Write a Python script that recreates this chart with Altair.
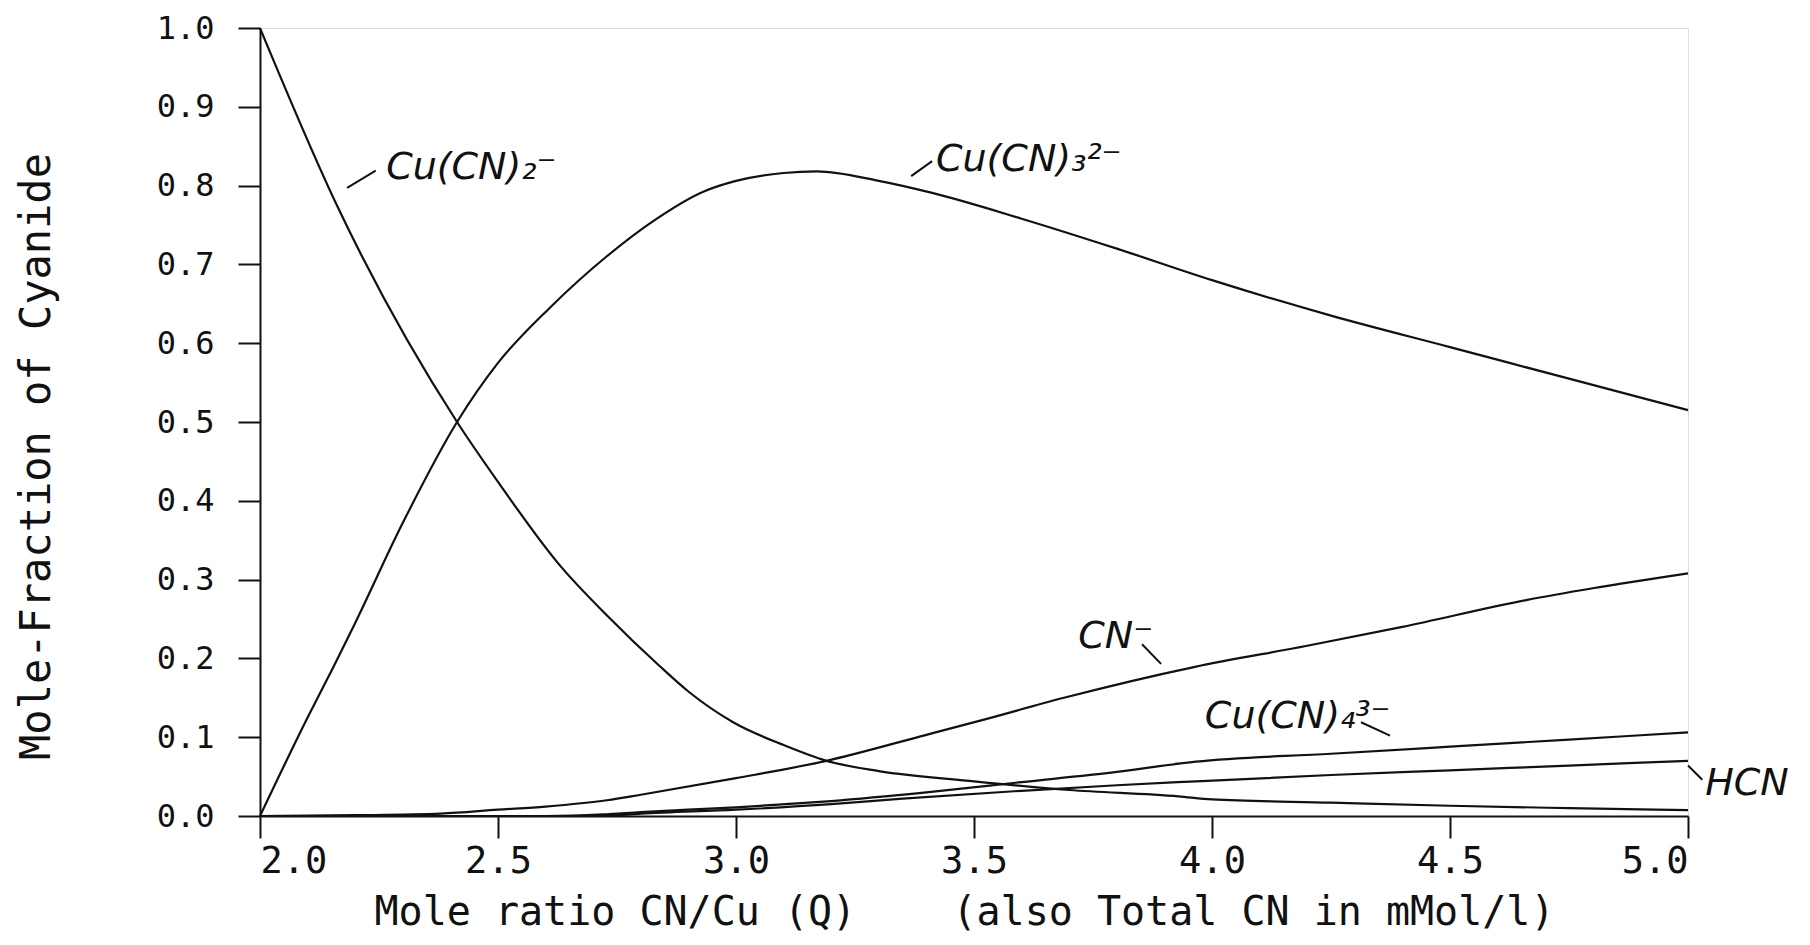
import altair as alt
import pandas as pd

# ---- data ----
cu2_x = [2.0, 2.16, 2.414, 2.5, 2.63, 2.728, 2.84, 2.9, 2.994, 3.1, 3.19, 3.3, 3.5, 3.7, 3.93, 4.0, 4.25, 4.5, 4.75, 5.0]
cu2_y = [1.0, 0.777, 0.5, 0.424, 0.318, 0.255, 0.19, 0.158, 0.119, 0.09, 0.070, 0.057, 0.044, 0.033, 0.025, 0.021, 0.017, 0.013, 0.010, 0.0075]

cu3_x = [2.0, 2.1, 2.155, 2.2, 2.3, 2.414, 2.5, 2.609, 2.728, 2.826, 2.93, 3.0, 3.1, 3.17, 3.3, 3.41, 3.6, 3.8, 4.0, 4.25, 4.5, 4.75, 5.0]
cu3_y = [0.0, 0.125, 0.19, 0.245, 0.372, 0.5, 0.575, 0.645, 0.71, 0.755, 0.792, 0.806, 0.816, 0.818, 0.806, 0.791, 0.758, 0.72, 0.68, 0.635, 0.595, 0.555, 0.515]

cn_x = [2.0, 2.2, 2.38, 2.5, 2.6, 2.729, 2.8, 3.0, 3.19, 3.4, 3.513, 3.689, 3.962, 4.2, 4.4, 4.66, 4.8, 5.0]
cn_y = [0.0, 0.001, 0.003, 0.008, 0.012, 0.020, 0.027, 0.048, 0.070, 0.103, 0.121, 0.150, 0.189, 0.216, 0.240, 0.274, 0.289, 0.308]

cu4_x = [2.0, 2.6, 2.72, 2.8, 3.0, 3.08, 3.2, 3.4, 3.6, 3.8, 3.966, 4.25, 4.5, 4.75, 5.0]
cu4_y = [0.0, 0.0, 0.002, 0.005, 0.011, 0.014, 0.019, 0.030, 0.043, 0.056, 0.069, 0.079, 0.088, 0.097, 0.106]

hcn_x = [2.0, 2.72, 2.8, 3.0, 3.2, 3.35, 3.6, 3.8, 3.966, 4.25, 4.5, 4.75, 5.0]
hcn_y = [0.0, 0.0, 0.003, 0.008, 0.015, 0.022, 0.032, 0.039, 0.044, 0.052, 0.058, 0.064, 0.070]

label_text = ["Cu(CN)\u2082\u207b", "Cu(CN)\u2083\u00b2\u207b", "CN\u207b", "Cu(CN)\u2084\u00b3\u207b", "HCN"]
label_x = [2.265, 3.42, 3.719, 3.985, 5.036]
label_y = [0.809, 0.819, 0.213, 0.112, 0.027]

lead_x1 = [2.183, 3.368, 3.853, 4.313, 5.0]
lead_y1 = [0.797, 0.812, 0.218, 0.119, 0.064]
lead_x2 = [2.243, 3.412, 3.893, 4.374, 5.030]
lead_y2 = [0.819, 0.831, 0.193, 0.102, 0.046]

x_ticks = [2.0, 2.5, 3.0, 3.5, 4.0, 4.5, 5.0]
y_ticks = [0.0, 0.1, 0.2, 0.3, 0.4, 0.5, 0.6, 0.7, 0.8, 0.9, 1.0]

# ---- tables ----
rows = []
for name, xs, ys in [("Cu(CN)2-", cu2_x, cu2_y), ("Cu(CN)3 2-", cu3_x, cu3_y),
                     ("CN-", cn_x, cn_y), ("Cu(CN)4 3-", cu4_x, cu4_y), ("HCN", hcn_x, hcn_y)]:
    for i, (a, b) in enumerate(zip(xs, ys)):
        rows.append({"series": name, "x": a, "y": b, "order": i})
curves = pd.DataFrame(rows)
labels = pd.DataFrame({"text": label_text, "x": label_x, "y": label_y})
leaders = pd.DataFrame({"x1": lead_x1, "y1": lead_y1, "x2": lead_x2, "y2": lead_y2})

mono = "DejaVu Sans Mono"

xscale = alt.Scale(domain=[2, 5], nice=False, zero=False)
yscale = alt.Scale(domain=[0, 1], nice=False)

xaxis = alt.Axis(values=x_ticks, format=".1f", grid=False, tickSize=22, tickWidth=2,
                 tickColor="#111", domainColor="#111", domainWidth=2,
                 labelFont=mono, labelFontSize=37, labelColor="#111", labelPadding=5,
                 labelFontWeight="normal",
                 title="Mole ratio CN/Cu (Q)\u00a0\u00a0\u00a0\u00a0(also Total CN in mMol/l)",
                 titleFont=mono, titleFontSize=40, titleFontWeight="normal", titleColor="#111",
                 titleX=704, titleY=108, titleBaseline="alphabetic", titleAlign="center")
yaxis = alt.Axis(values=y_ticks, format=".1f", grid=False, tickSize=22, tickWidth=2,
                 tickColor="#111", domainColor="#111", domainWidth=2,
                 labelFont=mono, labelFontSize=32, labelColor="#111", labelPadding=24,
                 labelFontWeight="normal",
                 title="Mole-Fraction of Cyanide",
                 titleFont=mono, titleFontSize=42, titleFontWeight="normal", titleColor="#111",
                 titleAngle=270, titleX=-211, titleY=428, titleAlign="center",
                 titleBaseline="alphabetic")

lines = alt.Chart(curves).mark_line(color="#111", strokeWidth=2.2, interpolate="monotone").encode(
    x=alt.X("x:Q", scale=xscale, axis=xaxis),
    y=alt.Y("y:Q", scale=yscale, axis=yaxis),
    detail="series:N",
    order="order:Q",
)

texts = alt.Chart(labels).mark_text(
    font="DejaVu Sans", fontStyle="italic", fontSize=38, align="left",
    baseline="alphabetic", color="#111"
).encode(x=alt.X("x:Q", scale=xscale), y=alt.Y("y:Q", scale=yscale), text="text:N")

leads = alt.Chart(leaders).mark_rule(color="#111", strokeWidth=2).encode(
    x=alt.X("x1:Q", scale=xscale), y=alt.Y("y1:Q", scale=yscale),
    x2="x2:Q", y2="y2:Q",
)

chart = alt.layer(lines, leads, texts).properties(
    width=1428, height=788,
    autosize=alt.AutoSizeParams(type="none"),
    padding={"left": 252, "top": 20, "right": 113, "bottom": 119},
).configure_view(stroke=None).configure(background="white")

chart.save("out.html", embed_options={"renderer": "svg", "actions": False})
